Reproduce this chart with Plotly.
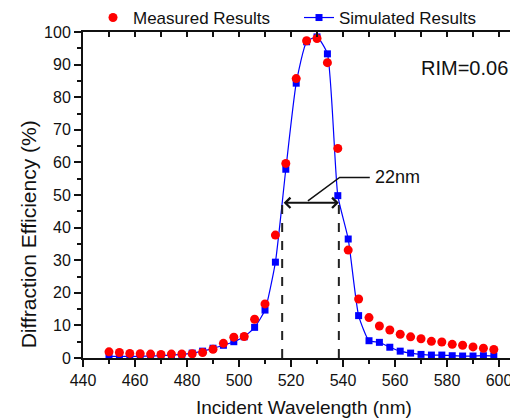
import plotly.graph_objects as go

# ---- data ----
wavelength = [450, 454, 458, 462, 466, 470, 474, 478, 482, 486, 490, 494, 498, 502,
              506, 510, 514, 518, 522, 526, 530, 534, 538, 542, 546, 550, 554, 558,
              562, 566, 570, 574, 578, 582, 586, 590, 594, 598]
measured = [1.9, 1.7, 1.4, 1.3, 1.2, 1.1, 1.2, 1.2, 1.3, 1.7, 2.7, 4.5, 6.4, 6.6,
            11.9, 16.6, 37.7, 59.7, 85.7, 97.3, 98.0, 90.6, 64.3, 33.1, 18.1, 12.4,
            9.8, 8.6, 7.3, 6.5, 5.9, 5.1, 4.9, 4.2, 3.9, 3.4, 3.0, 2.6]
simulated = [0.5, 0.5, 0.5, 0.5, 0.6, 0.7, 0.9, 1.1, 1.5, 2.1, 3.0, 3.9, 5.0, 6.5,
             9.4, 14.7, 29.4, 57.9, 84.3, 97.0, 98.5, 93.3, 49.8, 36.5, 13.0, 5.3,
             4.8, 3.3, 2.1, 1.5, 1.1, 0.9, 0.9, 0.7, 0.6, 0.6, 0.7, 0.6]

# FWHM markers
fwhm_left = 516.6
fwhm_right = 538.4
fwhm_level = 47.6
fwhm_label = "22nm"
leader_x = [526.5, 538.7, 550.3]
leader_y = [48.2, 55.4, 55.4]
rim_label = "RIM=0.06"

FONT = "Arial, Liberation Sans, sans-serif"
BLACK = "#111111"

fig = go.Figure()

fig.add_trace(go.Scatter(
    x=wavelength, y=simulated, name="Simulated Results",
    mode="lines+markers",
    line=dict(color="#0000ff", width=1.2, shape="spline", smoothing=0.5),
    marker=dict(symbol="square", size=7, color="#0000ff"),
    legendrank=2,
))
fig.add_trace(go.Scatter(
    x=wavelength, y=measured, name="Measured Results",
    mode="markers", marker=dict(symbol="circle", size=9, color="#ff0000"),
    legendrank=1,
))

# dashed verticals
for xv in (fwhm_left, fwhm_right):
    fig.add_trace(go.Scatter(
        x=[xv, xv], y=[0, fwhm_level], mode="lines", showlegend=False,
        line=dict(color="#222222", width=2, dash="dash"), hoverinfo="skip",
    ))
# leader line
fig.add_trace(go.Scatter(
    x=leader_x, y=leader_y, mode="lines", showlegend=False,
    line=dict(color=BLACK, width=1.5), hoverinfo="skip",
))
# invisible trace for top axis
fig.add_trace(go.Scatter(x=[wavelength[0]], y=[0], xaxis="x2", mode="markers",
                         marker=dict(opacity=0), showlegend=False, hoverinfo="skip"))

# double arrow
fig.add_annotation(x=fwhm_right, y=fwhm_level, ax=fwhm_left, ay=fwhm_level,
                   xref="x", yref="y", axref="x", ayref="y", text="",
                   showarrow=True, arrowhead=4, arrowside="end+start",
                   arrowsize=1, arrowwidth=2, arrowcolor=BLACK)
fig.add_annotation(x=leader_x[-1], y=leader_y[-1], xref="x", yref="y",
                   text=fwhm_label, showarrow=False, xanchor="left", xshift=3,
                   font=dict(size=18, color=BLACK, family=FONT))
fig.add_annotation(x=0.772, y=0.89, xref="paper", yref="paper", text=rim_label,
                   showarrow=False, xanchor="left", yanchor="middle",
                   font=dict(size=20, color=BLACK, family=FONT))
# axis titles
fig.add_annotation(x=0.508, y=-0.153, xref="paper", yref="paper",
                   text="Incident Wavelength (nm)", showarrow=False,
                   xanchor="center", yanchor="middle",
                   font=dict(size=19, color=BLACK, family=FONT))
fig.add_annotation(x=-0.126, y=0.38, xref="paper", yref="paper",
                   text="Diffraction Efficiency (%)", showarrow=False, textangle=-90,
                   xanchor="center", yanchor="middle",
                   font=dict(size=21, color=BLACK, family=FONT))

# page body has an 8px margin, so the figure is 8px smaller on each side
fig.update_layout(
    width=510, height=411,
    margin=dict(l=75, r=0, t=24, b=61, autoexpand=False),
    paper_bgcolor="white", plot_bgcolor="white",
    font=dict(family=FONT, size=16, color=BLACK),
    showlegend=True,
    legend=dict(orientation="h", x=0.023, xanchor="left", y=1.043, yanchor="middle",
                font=dict(size=17, color=BLACK, family=FONT), itemwidth=30,
                entrywidth=161, entrywidthmode="pixels",
                bgcolor="rgba(0,0,0,0)", traceorder="normal"),
    xaxis=dict(range=[440, 607.3], tick0=440, dtick=20, ticks="outside", ticklen=7,
               tickwidth=1.5, tickcolor=BLACK, showline=True, linecolor=BLACK,
               linewidth=2, showgrid=False, zeroline=False, automargin=False,
               minor=dict(dtick=10, ticks="outside", ticklen=4, tickwidth=1.5,
                          tickcolor=BLACK, showgrid=False),
               tickfont=dict(size=16, color=BLACK, family=FONT)),
    xaxis2=dict(overlaying="x", side="top", matches="x", anchor="y",
                range=[440, 607.3], tick0=440, dtick=10, ticks="inside", ticklen=5,
                tickwidth=1.5, tickcolor=BLACK, showline=True, linecolor=BLACK,
                linewidth=2, showgrid=False, zeroline=False, showticklabels=False),
    yaxis=dict(range=[0, 100], dtick=10, ticks="outside", ticklen=7, tickwidth=1.5,
               tickcolor=BLACK, showline=True, linecolor=BLACK, linewidth=2,
               showgrid=False, zeroline=False, automargin=False,
               minor=dict(dtick=5, ticks="outside", ticklen=4, tickwidth=1.5,
                          tickcolor=BLACK, showgrid=False),
               tickfont=dict(size=16, color=BLACK, family=FONT)),
)

fig.write_html("out.html")
